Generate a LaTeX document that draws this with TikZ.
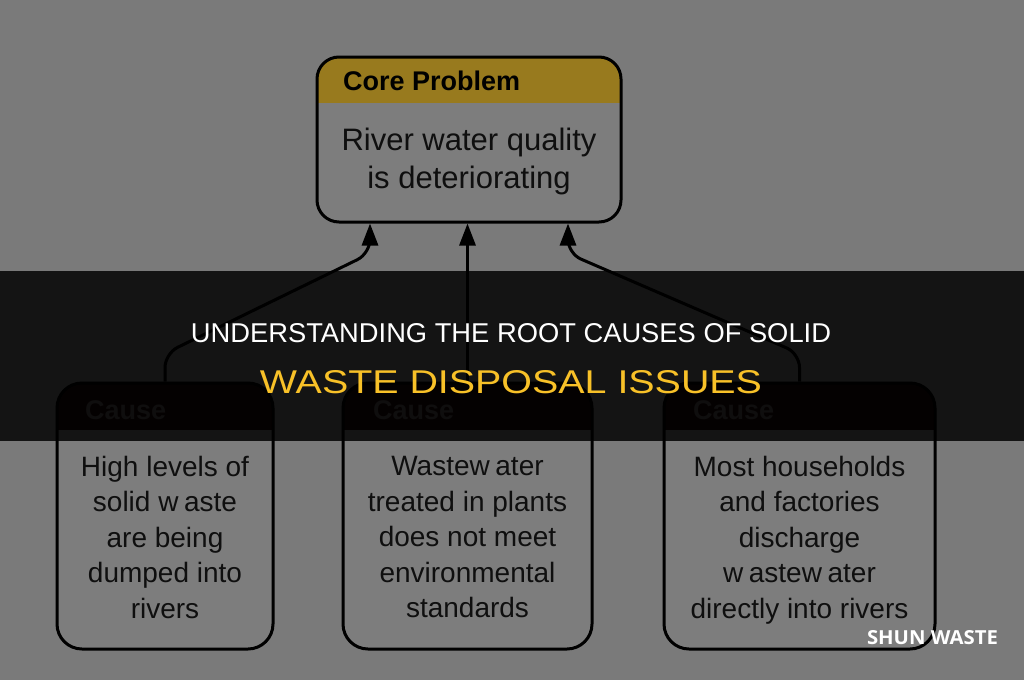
\documentclass[tikz,border=0pt]{standalone}
\usepackage{fontspec}
\usepackage{graphicx}
\setmainfont{Liberation Sans}
\newfontfamily\wmfont{Open Sans}
\usetikzlibrary{arrows.meta}
\definecolor{bggray}{RGB}{122,122,122}
\definecolor{bodygray}{RGB}{125,125,125}
\definecolor{coregold}{RGB}{152,122,30}
\definecolor{causehead}{RGB}{30,10,10}
\definecolor{causetext}{RGB}{95,85,85}
\definecolor{titleyellow}{RGB}{248,193,40}
\definecolor{inktext}{RGB}{15,15,15}
\tikzset{
  box/.style={draw=black, line width=3pt, rounded corners=22pt, fill=bodygray, inner sep=0pt},
  corebox/.style={box, minimum width=304pt, minimum height=165pt,
    path picture={\fill[coregold, sharp corners] (path picture bounding box.north west) rectangle ([yshift=-46pt]path picture bounding box.north east);}},
  causebox/.style={box, rounded corners=25pt, minimum height=266pt,
    path picture={\fill[causehead, sharp corners] (path picture bounding box.north west) rectangle ([yshift=-47pt]path picture bounding box.north east);}},
  hdr/.style={inner sep=0pt, font=\bfseries\fontsize{27}{30}\selectfont},
  corehdr/.style={hdr, text=black},
  causehdr/.style={hdr, text=causetext},
  coretxt/.style={inner sep=0pt, align=center, text=inktext, font=\fontsize{31}{38}\selectfont},
  causetxt/.style={inner sep=0pt, align=center, text=inktext, font=\fontsize{28}{35.5}\selectfont},
  conn/.style={draw=black, line width=3pt, rounded corners=14pt, -{Triangle[length=22pt,width=16pt]}},
  title/.style={inner sep=0pt}
}
\begin{document}
\begin{tikzpicture}[x=1pt,y=-1pt]
\fill[bggray] (0,0) rectangle (1024,680);
\useasboundingbox (0,0) rectangle (1024,680);

% core problem
\node[corebox] (core) at (469,139.5) {};
\node[corehdr, anchor=base west] (corelbl) at (343,90) {Core Problem};
\node[coretxt] (coretext) at (469,161) {River water quality\\is deteriorating};

% causes
\node[causebox, minimum width=216pt] (c1) at (165,516) {};
\node[causebox, minimum width=249pt] (c2) at (467.5,516) {};
\node[causebox, minimum width=271pt] (c3) at (799.5,516) {};
\node[causehdr, anchor=base west] (h1) at (85,419) {Cause};
\node[causehdr, anchor=base west] (h2) at (373,419) {Cause};
\node[causehdr, anchor=base west] (h3) at (693,419) {Cause};
\node[causetxt] (t1) at (165,537) {High levels of\\solid w\kern.2em aste\\are being\\dumped into\\rivers};
\node[causetxt] (t2) at (467.5,537) {Wastew\kern.2em ater\\treated in plants\\does not meet\\environmental\\standards};
\node[causetxt] (t3) at (799.5,540) {Most households\\and factories\\discharge\\w\kern.2em astew\kern.2em ater\\directly into rivers};

% connectors
\draw[conn] (c1.north) -- ++(0,-28) -- ([xshift=-99pt,yshift=-30pt]core.south) -- ([xshift=-99pt]core.south);
\draw[conn] (c2.north) -- (c2.north |- core.south);
\draw[conn] (c3.north) -- ++(0,-28) -- ([xshift=99pt,yshift=-30pt]core.south) -- ([xshift=99pt]core.south);

% banner
\fill[black, opacity=0.836] (0,271) rectangle (1024,441);
\node[title, text=white] (title1) at (511,333.5) {\resizebox{640pt}{19pt}{UNDERSTANDING THE ROOT CAUSES OF SOLID}};
\node[title, text=titleyellow] (title2) at (511,382) {\resizebox{502pt}{23pt}{WASTE DISPOSAL ISSUES}};

% watermark
\node[title, text=white] (wm) at (932.5,638) {\resizebox{131pt}{14pt}{\wmfont\bfseries SHUN WASTE}};
\end{tikzpicture}
\end{document}
